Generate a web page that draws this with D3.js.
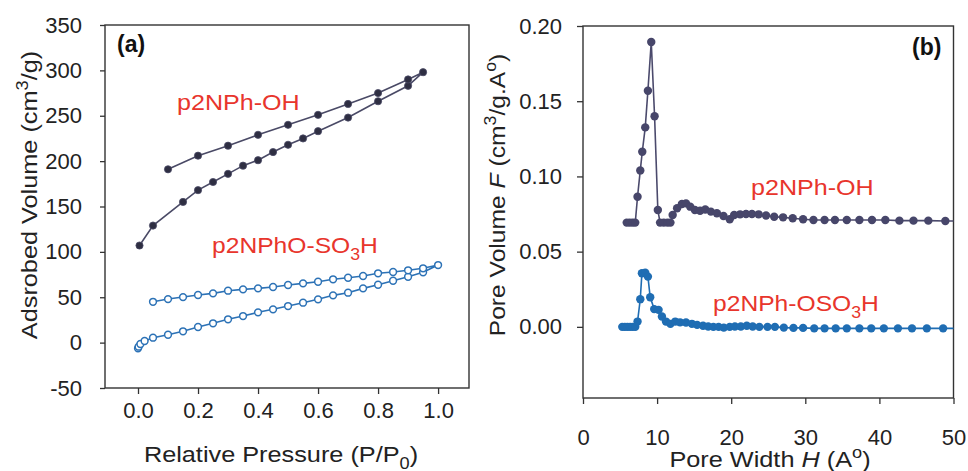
<!DOCTYPE html>
<html>
<head>
<meta charset="utf-8">
<script src="https://cdn.jsdelivr.net/npm/d3@7"></script>
<style>
  html, body { margin: 0; padding: 0; background: #fff; }
  svg { display: block; font-family: "Liberation Sans", Arial, sans-serif; }
</style>
</head>
<body>
<svg id="chart" width="968" height="471"></svg>
<script>
// ---- (a) N2 isotherms: relative pressure vs adsorbed volume ----
const ohAdsP = [0.005, 0.05, 0.15, 0.2, 0.25, 0.3, 0.35, 0.4, 0.45, 0.5, 0.55, 0.6, 0.7, 0.8, 0.9, 0.95];
const ohAdsV = [107, 129, 155, 168, 177, 186, 195, 201, 210, 218, 225, 233, 248, 266, 283, 298];
const ohDesP = [0.9, 0.8, 0.7, 0.6, 0.5, 0.4, 0.3, 0.2, 0.1];
const ohDesV = [290, 275, 263, 251, 240, 229, 217, 206, 191];

const soAdsP = [0.0, 0.002, 0.008, 0.022, 0.05, 0.1, 0.15, 0.2, 0.25, 0.3, 0.35, 0.4, 0.45, 0.5,
                0.55, 0.6, 0.65, 0.7, 0.75, 0.8, 0.85, 0.9, 0.95, 1.0];
const soAdsV = [-6.3, -4.5, -1.5, 1.8, 5.4, 8.7, 12.5, 17.2, 21.3, 25.7, 29.3, 33.4, 36.7, 40.3,
                44, 47.7, 52.1, 55, 59.8, 63.8, 68.2, 72.6, 77.5, 85.5];
const soDesP = [0.95, 0.9, 0.85, 0.8, 0.75, 0.7, 0.65, 0.6, 0.55, 0.5, 0.45, 0.4, 0.35, 0.3,
                0.25, 0.2, 0.15, 0.1, 0.05];
const soDesV = [81.9, 79.7, 77.8, 76.4, 73.4, 71.5, 69.8, 67.1, 65.3, 63.5, 61.3, 59.8, 58.7, 57.2,
                54.3, 52.5, 50.2, 48, 45];

const pressureTicks = [0, 0.2, 0.4, 0.6, 0.8, 1.0];
const volumeTicks = [-50, 0, 50, 100, 150, 200, 250, 300, 350];

// ---- (b) pore size distributions: pore width vs pore volume ----
const ohW = [5.9, 6.3, 6.7, 7.05, 7.36, 7.73, 8.0, 8.4, 8.76, 9.21, 9.66, 10.1,
             10.4, 10.9, 11.4, 11.8, 12.1, 12.7, 13.35, 13.9, 14.47, 15.1, 15.8, 16.5,
             17.26, 18.07, 18.96, 19.8, 20.4, 21.2, 22.0, 22.8, 23.7, 24.7, 25.8, 27.0,
             28.3, 29.7, 31.1, 32.6, 34.0, 35.6, 37.3, 39.0, 40.8, 42.7, 44.6, 46.6, 48.9, 51.3];
const ohF = [0.0693, 0.0693, 0.0693, 0.0693, 0.0865, 0.104, 0.1164, 0.1326, 0.157, 0.1894, 0.140, 0.0777,
             0.0693, 0.0693, 0.0693, 0.0693, 0.0744, 0.0788, 0.0817, 0.0821, 0.0799, 0.0777, 0.0772, 0.078,
             0.0766, 0.0755, 0.0737, 0.0715, 0.0744, 0.0748, 0.075, 0.075, 0.0748, 0.074, 0.0732, 0.0728,
             0.0722, 0.0715, 0.071, 0.071, 0.071, 0.071, 0.071, 0.071, 0.071, 0.0706, 0.0706, 0.0706, 0.0704, 0.0703];

const soW = [5.3, 5.65, 6.0, 6.35, 6.7, 7.05, 7.36, 7.73, 7.95, 8.4, 8.76, 9.07,
             9.61, 10.2, 10.65, 11.2, 11.8, 12.45, 13.1, 13.9, 14.7, 15.4, 16.2, 16.9,
             17.6, 18.3, 19.0, 19.8, 20.5, 21.3, 22.1, 22.9, 23.8, 24.9, 25.9, 27.1,
             28.4, 29.7, 31.2, 32.6, 34.1, 35.6, 37.3, 38.9, 40.6, 42.5, 44.4, 46.4, 48.6, 51.0];
const soF = [0, 0, 0, 0, 0, 0, 0.0035, 0.0184, 0.0356, 0.036, 0.0334, 0.0197,
             0.0118, 0.0113, 0.0069, 0.0035, 0.002, 0.0035, 0.003, 0.0029, 0.002, 0.0013, 0.0007, 0.0002,
             0, 0, -0.0005, 0, 0.0002, 0.0002, 0.0007, 0.0002, 0, 0, 0, -0.0005,
             -0.0007, -0.0007, -0.001, -0.001, -0.001, -0.001, -0.001, -0.001, -0.001, -0.001, -0.001, -0.001, -0.001, -0.001];

const widthTicks = [0, 10, 20, 30, 40, 50];
const poreTicks = [0, 0.05, 0.10, 0.15, 0.20];

// ---- colours ----
const ohLine = "#4a4a66", ohDot = "#2e2e42";
const ohLineB = "#4b4a6c", ohDotB = "#47466a";
const soBlue = "#2c72b6", soBlueB = "#1f6db3";
const labelRed = "#e8352c";
const frameCol = "#333";

const svg = d3.select("#chart");

// rich text helper: parts may be plain, superscript, subscript or italic
function richText(g, x, y, parts, o = {}) {
  const size = o.size || 22;
  const t = g.append("text")
    .attr("transform", `translate(${x},${y})` + (o.rotate ? ` rotate(${o.rotate})` : "") + ` scale(${o.sx || 1},1)`)
    .attr("text-anchor", o.anchor || "start")
    .attr("font-size", size)
    .attr("font-weight", o.bold ? "bold" : null)
    .attr("fill", o.fill || "#222");
  let shift = 0;
  parts.forEach(p => {
    const s = t.append("tspan").text(p.t);
    let target = 0;
    if (p.sup) { target = -size * 0.42; s.attr("font-size", size * 0.72); }
    if (p.sub) { target = size * 0.3; s.attr("font-size", size * 0.72); }
    if (p.it) s.attr("font-style", "italic");
    s.attr("dy", target - shift);
    shift = target;
  });
  return t;
}

// ================= panel (a) =================
const xL = d3.scaleLinear().domain([-0.11, 1.103]).range([105, 469]);
const yL = d3.scaleLinear().domain([-50, 350]).range([388, 25]);

const gA = svg.append("g");
gA.append("rect")
  .attr("x", xL.range()[0]).attr("y", yL.range()[1])
  .attr("width", xL.range()[1] - xL.range()[0])
  .attr("height", yL.range()[0] - yL.range()[1])
  .attr("fill", "none").attr("stroke", frameCol).attr("stroke-width", 1.4);

const axLy = gA.append("g").attr("transform", `translate(${xL.range()[0]},0)`)
  .call(d3.axisLeft(yL).tickValues(volumeTicks).tickFormat(d => String(d)).tickSize(5).tickPadding(18).tickSizeOuter(0));
const axLx = gA.append("g").attr("transform", `translate(0,${yL.range()[0]})`)
  .call(d3.axisBottom(xL).tickValues(pressureTicks).tickFormat(d3.format(".1f")).tickSize(6).tickPadding(8).tickSizeOuter(0));

[axLy, axLx].forEach(a => {
  a.select(".domain").remove();
  a.selectAll("line").attr("stroke", frameCol).attr("stroke-width", 1.3);
  a.selectAll("text").attr("font-size", 22).attr("fill", "#222")
    .attr("font-family", "'Liberation Sans', Arial, sans-serif");
});

const lineA = d3.line().x(d => xL(d[0])).y(d => yL(d[1]));
const ohLoop = ohAdsP.map((p, i) => [p, ohAdsV[i]]).concat(ohDesP.map((p, i) => [p, ohDesV[i]]));
const soLoop = soAdsP.map((p, i) => [p, soAdsV[i]]).concat(soDesP.map((p, i) => [p, soDesV[i]]));

gA.append("path").datum(ohLoop).attr("d", lineA)
  .attr("fill", "none").attr("stroke", ohLine).attr("stroke-width", 1.6);
gA.selectAll("circle.oh").data(ohLoop).join("circle").attr("class", "oh")
  .attr("cx", d => xL(d[0])).attr("cy", d => yL(d[1])).attr("r", 3.6)
  .attr("fill", ohDot).attr("stroke", ohLine).attr("stroke-width", 0.8);

gA.append("path").datum(soLoop).attr("d", lineA)
  .attr("fill", "none").attr("stroke", soBlue).attr("stroke-width", 1.6);
gA.selectAll("circle.so").data(soLoop).join("circle").attr("class", "so")
  .attr("cx", d => xL(d[0])).attr("cy", d => yL(d[1])).attr("r", 3.4)
  .attr("fill", "#fff").attr("stroke", soBlue).attr("stroke-width", 1.5);

richText(gA, 37, 195, [{ t: "Adsrobed Volume (cm" }, { t: "3", sup: true }, { t: "/g)" }],
  { rotate: -90, anchor: "middle", size: 22, sx: 1.15 });
richText(gA, 281, 462, [{ t: "Relative Pressure (P/P" }, { t: "0", sub: true }, { t: ")" }],
  { anchor: "middle", size: 22, sx: 1.15 });
richText(gA, 117, 52, [{ t: "(a)" }], { bold: true, size: 23, fill: "#111" });
richText(gA, 177, 110, [{ t: "p2NPh-OH" }], { size: 22, sx: 1.14, fill: labelRed });
richText(gA, 212, 253, [{ t: "p2NPhO-SO" }, { t: "3", sub: true }, { t: "H" }], { size: 22, sx: 1.12, fill: labelRed });

// ================= panel (b) =================
const xR = d3.scaleLinear().domain([0, 50]).range([583, 953.5]);
const yR = d3.scaleLinear().domain([-0.0473, 0.2]).range([398, 26]);

const gB = svg.append("g");
gB.append("clipPath").attr("id", "clipB").append("rect")
  .attr("x", xR.range()[0]).attr("y", yR.range()[1])
  .attr("width", xR.range()[1] - xR.range()[0])
  .attr("height", yR.range()[0] - yR.range()[1]);

gB.append("rect")
  .attr("x", xR.range()[0]).attr("y", yR.range()[1])
  .attr("width", xR.range()[1] - xR.range()[0])
  .attr("height", yR.range()[0] - yR.range()[1])
  .attr("fill", "none").attr("stroke", frameCol).attr("stroke-width", 1.4);

const axRy = gB.append("g").attr("transform", `translate(${xR.range()[0]},0)`)
  .call(d3.axisLeft(yR).tickValues(poreTicks).tickFormat(d3.format(".2f")).tickSize(6).tickPadding(15).tickSizeOuter(0));
const axRx = gB.append("g").attr("transform", `translate(0,${yR.range()[0]})`)
  .call(d3.axisBottom(xR).tickValues(widthTicks).tickFormat(d => String(d)).tickSize(6).tickPadding(25).tickSizeOuter(0));

[axRy, axRx].forEach(a => {
  a.select(".domain").remove();
  a.selectAll("line").attr("stroke", frameCol).attr("stroke-width", 1.3);
  a.selectAll("text").attr("font-size", 22).attr("fill", "#222")
    .attr("font-family", "'Liberation Sans', Arial, sans-serif");
});

const lineB = d3.line().x(d => xR(d[0])).y(d => yR(d[1]));
const ohPSD = ohW.map((w, i) => [w, ohF[i]]);
const soPSD = soW.map((w, i) => [w, soF[i]]);

const plotB = gB.append("g").attr("clip-path", "url(#clipB)");
[[soPSD, soBlueB, soBlueB], [ohPSD, ohLineB, ohDotB]].forEach(([data, lc, dc], k) => {
  plotB.append("path").datum(data).attr("d", lineB)
    .attr("fill", "none").attr("stroke", lc).attr("stroke-width", 1.6);
  plotB.selectAll("circle.s" + k).data(data).join("circle").attr("class", "s" + k)
    .attr("cx", d => xR(d[0])).attr("cy", d => yR(d[1])).attr("r", 4.2)
    .attr("fill", dc);
});

richText(gB, 505, 195, [{ t: "Pore Volume " }, { t: "F", it: true }, { t: " (cm" }, { t: "3", sup: true }, { t: "/g.A" }, { t: "o", sup: true }, { t: ")" }],
  { rotate: -90, anchor: "middle", size: 22, sx: 1.12 });
richText(gB, 770, 467, [{ t: "Pore Width " }, { t: "H", it: true }, { t: " (A" }, { t: "o", sup: true }, { t: ")" }],
  { anchor: "middle", size: 22, sx: 1.15 });
richText(gB, 912, 55, [{ t: "(b)" }], { bold: true, size: 23, fill: "#111" });
richText(gB, 751, 195, [{ t: "p2NPh-OH" }], { size: 22, sx: 1.14, fill: labelRed });
richText(gB, 713, 311, [{ t: "p2NPh-OSO" }, { t: "3", sub: true }, { t: "H" }], { size: 22, sx: 1.12, fill: labelRed });
</script>
</body>
</html>
